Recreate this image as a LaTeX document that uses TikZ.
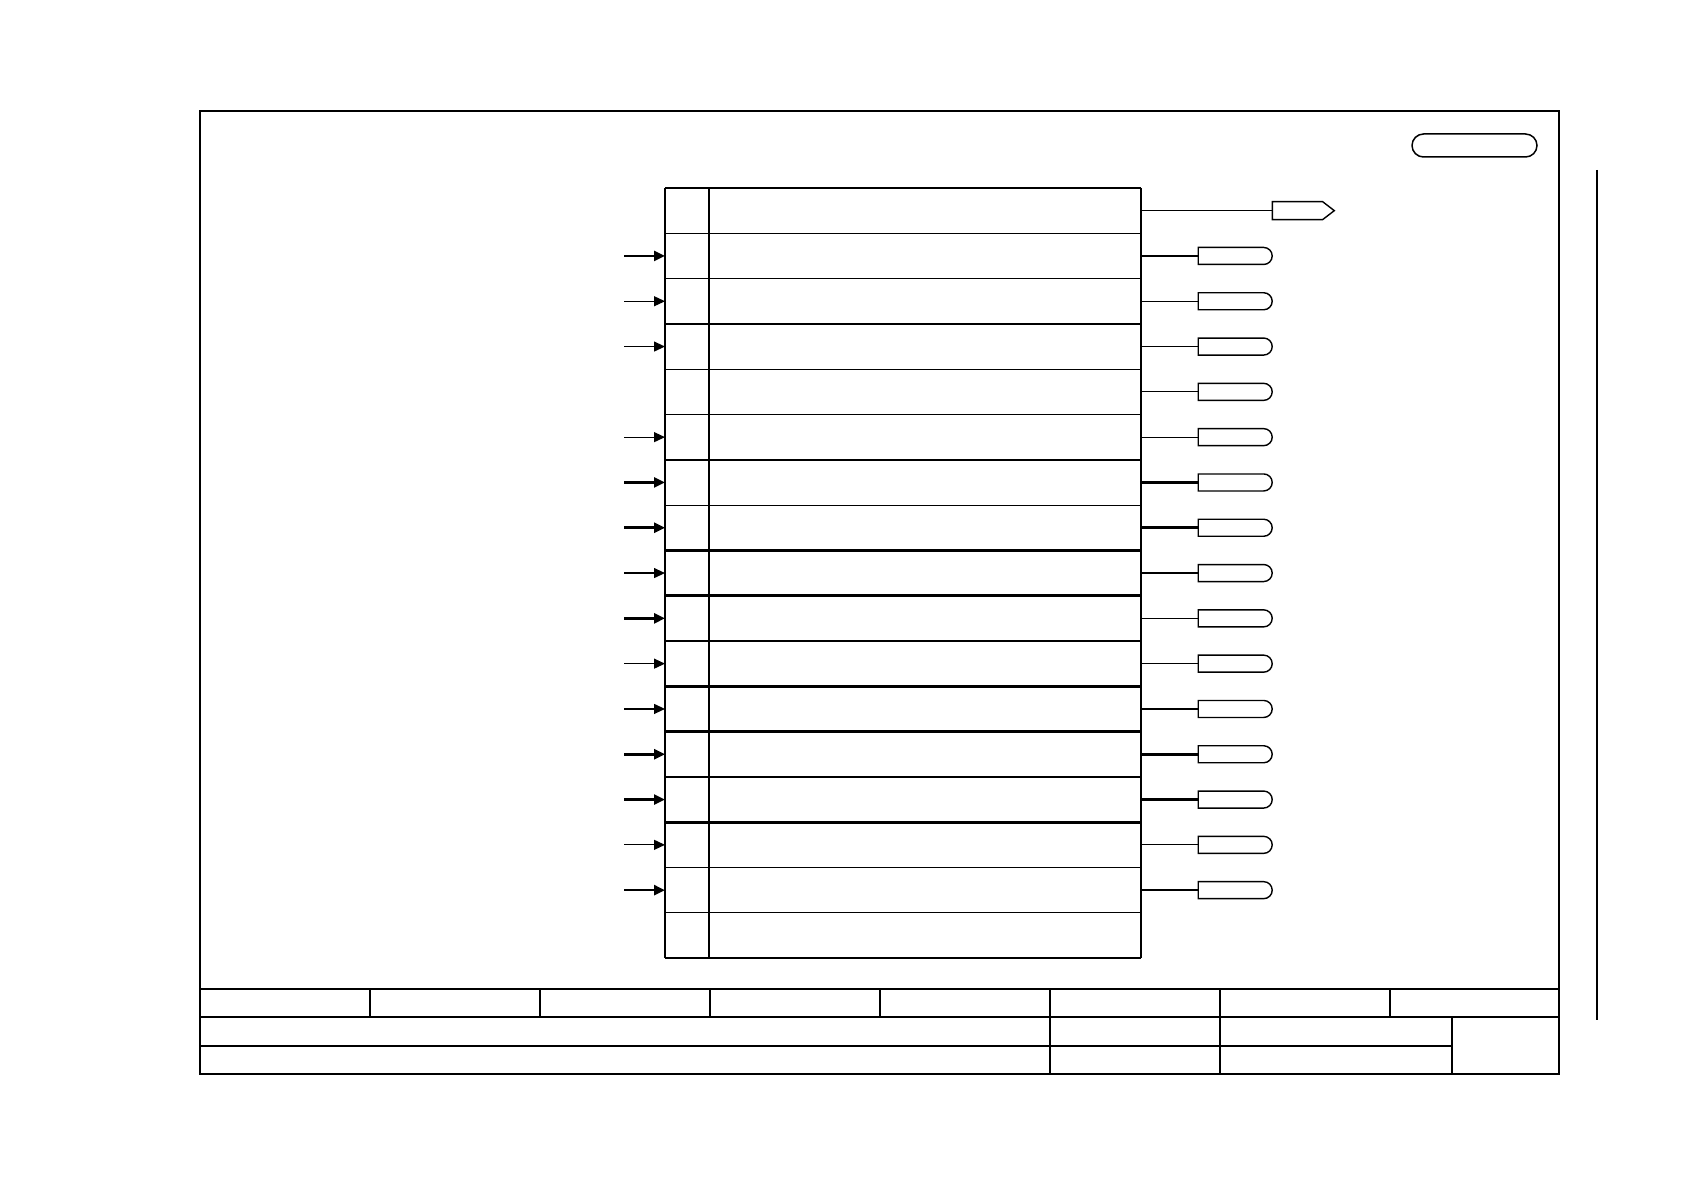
\documentclass[tikz,border=0pt]{standalone}
\usetikzlibrary{arrows.meta,shapes.misc,shapes.symbols}

\tikzset{
  thinln/.style={line width=1.2pt},
  thickln/.style={line width=2.6pt},
  midln/.style={line width=1.8pt},
  frameln/.style={line width=2.8pt},
  term/.style={draw, line width=1.4pt, rounded rectangle, rounded rectangle left arc=none,
    minimum width=74pt, minimum height=17pt, inner sep=0pt, anchor=west},
  flag/.style={draw, line width=1.4pt, signal, signal to=east, signal pointer angle=75,
    minimum width=62pt, minimum height=18pt, inner sep=0pt, anchor=west},
}

\begin{document}
\begin{tikzpicture}[x=1pt, y=-1pt, >={Triangle[length=11pt,width=10pt]}]
    \useasboundingbox (0,0) rectangle (1684,1190);

    % Sheet frame
    \draw[frameln] (200,111) rectangle (1559,1074);

    % Title block
    \draw[midln] (200,989) -- (1559,989);
    \draw[frameln] (200,1017) -- (1559,1017);
    \draw[midln] (200,1046) -- (1452,1046);
    \foreach \x in {370,540,710,880,1050,1220,1390}
        \draw[midln] (\x,989) -- (\x,1017);
    \draw[midln] (1050,1017) -- (1050,1074) (1220,1017) -- (1220,1074);
    \draw[frameln] (1452,1017) -- (1452,1074);

    % Sheet tag and side line
    \node[draw, rounded rectangle, line width=1.5pt, minimum width=125pt,
        minimum height=23pt, inner sep=0pt] (tag) at (1474.5,145.5) {};
    \draw[thinln] (1597,170) -- (1597,1020);

    % Signal table
    \draw[thinln] (665,188) -- (665,958) (709,188) -- (709,958) (1141,188) -- (1141,958);
    \foreach \k/\w in {0/thickln,1/thinln,2/thinln,3/thickln,4/thinln,5/thinln,
                      6/thickln,7/thinln,8/thickln,9/thickln,10/thinln,11/thickln,
                      12/thickln,13/thinln,14/thickln,15/thinln,16/thinln,17/thickln}
        \draw[\w] (665,{188+45.3*\k}) -- (1141,{188+45.3*\k});

    % Row anchors on both table edges
    \foreach \i in {1,...,17} {
        \coordinate (in\i) at (624,{188+45.3*(\i-0.5)});
        \coordinate (l\i) at (665,{188+45.3*(\i-0.5)});
        \coordinate (r\i) at (1141,{188+45.3*(\i-0.5)});
    }

    % Inputs
    \foreach \i/\w in {2/thickln,3/thinln,4/thinln,6/thinln,7/thickln,8/thickln,
                      9/thinln,10/thickln,11/thinln,12/thinln,13/thickln,14/thickln,
                      15/thinln,16/thickln}
        \draw[->, \w] (in\i) -- (l\i);

    % Outputs
    \node[flag] (out1) at (1271.6,{188+45.3*0.5}) {};
    \draw[thinln] (r1) -- (out1.west);
    \foreach \i/\w in {2/thickln,3/thinln,4/thinln,5/thinln,6/thinln,7/thickln,
                      8/thickln,9/thickln,10/thinln,11/thinln,12/thickln,13/thickln,
                      14/thickln,15/thinln,16/thickln} {
        \node[term] (out\i) at (1197.5,{188+45.3*(\i-0.5)}) {};
        \draw[\w] (r\i) -- (out\i.west);
    }
\end{tikzpicture}
\end{document}
